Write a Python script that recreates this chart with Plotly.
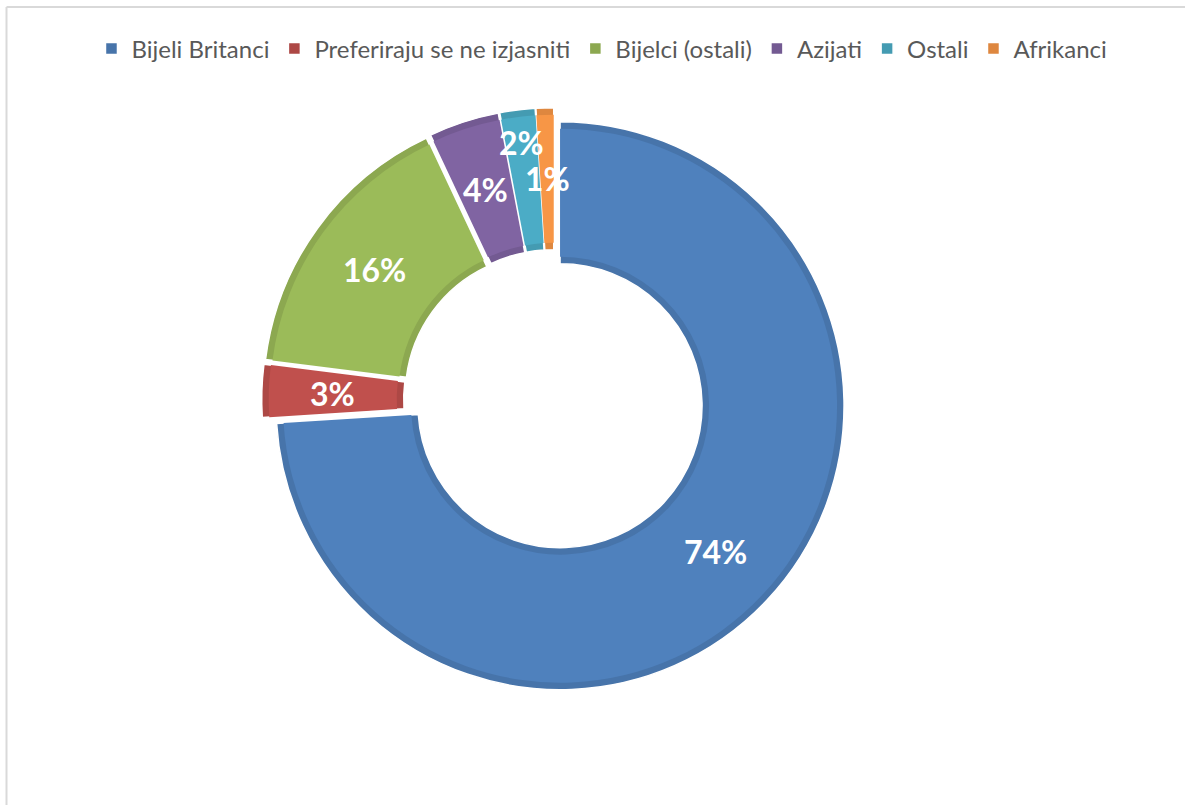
import math
import plotly.graph_objects as go

# ---- data ----
labels = ["Bijeli Britanci", "Preferiraju se ne izjasniti", "Bijelci (ostali)",
          "Azijati", "Ostali", "Afrikanci"]
values = [74, 3, 16, 4, 2, 1]
fill_colors = ["#4F81BD", "#C0504D", "#9BBB59", "#8064A2", "#4BACC6", "#F79646"]
edge_colors = ["#4774AA", "#AD4845", "#8CA850", "#735A92", "#449BB2", "#DE873F"]

# ---- layout constants (pixels) ----
W, H = 1185, 805
CX, CY = 554, 400          # unexploded centre
R, RIN = 284, 142          # outer / inner radius
PULLPX = 8.3               # explosion distance
BORDER = 7                 # darker edge band
label_radius_factor = [1, 1, 1, 1, 1.18, 1]


def domain_for(r_outer, pull_px):
    half = r_outer + pull_px
    return dict(x=[(CX - half) / W, (CX + half) / W],
                y=[1 - (CY + half) / H, 1 - (CY - half) / H])


fig = go.Figure()

# base (darker) ring
fig.add_trace(go.Pie(
    labels=labels, values=values, sort=False, direction="clockwise", rotation=0,
    hole=RIN / R, pull=[PULLPX / R] * len(values),
    domain=domain_for(R, PULLPX),
    marker=dict(colors=edge_colors, line=dict(color="white", width=1.5)),
    textinfo="none", hoverinfo="label+percent", showlegend=True,
))

# inner lighter band
R2 = R - BORDER
fig.add_trace(go.Pie(
    labels=labels, values=values, sort=False, direction="clockwise", rotation=0,
    hole=(RIN + BORDER) / R2, pull=[PULLPX / R2] * len(values),
    domain=domain_for(R2, PULLPX),
    marker=dict(colors=fill_colors, line=dict(color="white", width=0)),
    textinfo="none", hoverinfo="skip", showlegend=False,
))

# data labels placed from the slice angles
total = sum(values)
cum = 0
annotations = []
for v, f in zip(values, label_radius_factor):
    theta = math.radians(360 * (cum + v / 2) / total)
    cum += v
    cx = CX + PULLPX * math.sin(theta)
    cy = CY - PULLPX * math.cos(theta)
    rho = (R + RIN) / 2 * f
    px = cx + rho * math.sin(theta)
    py = cy - rho * math.cos(theta)
    annotations.append(dict(
        x=px / W, y=1 - py / H, xref="paper", yref="paper",
        text=f"{round(100 * v / total)}%", showarrow=False,
        font=dict(family="Lato", size=32, color="white", weight="bold"),
        xanchor="center", yanchor="middle",
    ))

fig.update_layout(
    width=W, height=H,
    margin=dict(l=0, r=0, t=0, b=0),
    paper_bgcolor="white", plot_bgcolor="white",
    annotations=annotations,
    legend=dict(orientation="h", x=0.508, xanchor="center",
                y=1 - 49 / H, yanchor="middle",
                font=dict(family="Lato", size=24, color="#595959"),
                itemclick=False),
    shapes=[
        dict(type="line", xref="paper", yref="paper",
             x0=6.5 / W, x1=6.5 / W, y0=0, y1=1 - 7 / H,
             line=dict(color="#D9D9D9", width=2)),
        dict(type="line", xref="paper", yref="paper",
             x0=6.5 / W, x1=1, y0=1 - 7 / H, y1=1 - 7 / H,
             line=dict(color="#D9D9D9", width=2)),
    ],
)

fig.write_html("out.html",
               config={"displayModeBar": False},
               post_script="document.body.style.margin='0px';"
                           "document.body.style.overflow='hidden';")
